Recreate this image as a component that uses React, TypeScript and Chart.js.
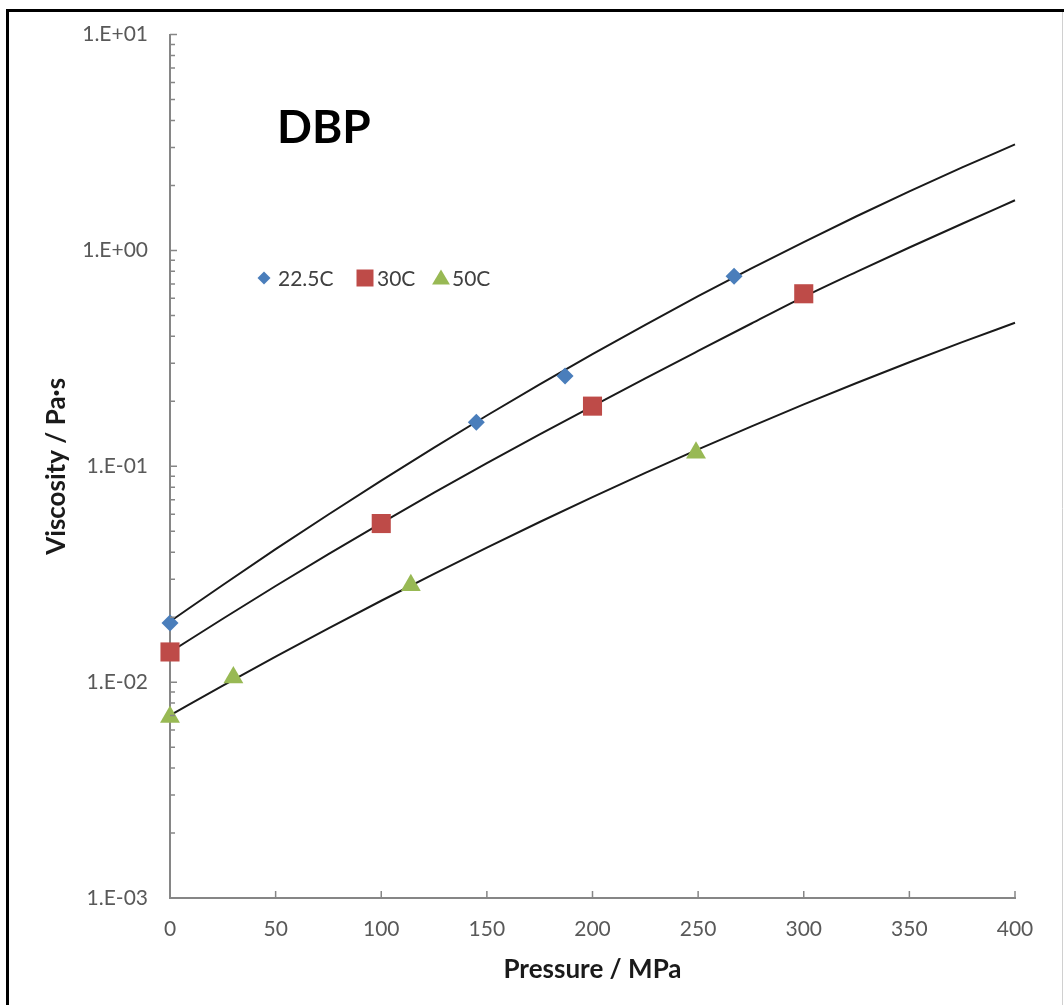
import React, { useEffect, useRef } from "react";
import { Chart, registerables } from "chart.js";

Chart.register(...registerables);

// ---- data ----
const seriesNames = ["22.5C", "30C", "50C"];
const seriesColors = ["#4A7EBB", "#BE4B48", "#98B954"];

const p225 = [0, 145, 187, 267];
const v225 = [0.0188, 0.16, 0.262, 0.76];
const p30 = [0, 100, 200, 300];
const v30 = [0.0138, 0.0543, 0.19, 0.63];
const p50 = [0, 30, 114, 249];
const v50 = [0.0069, 0.0105, 0.0281, 0.1155];

const fitPressure = [0, 25, 50, 75, 100, 125, 150, 175, 200, 225, 250, 275, 300, 325, 350, 375, 400];
const fit225 = [0.0191, 0.0282, 0.0413, 0.0598, 0.0859, 0.1221, 0.1719, 0.2397, 0.331, 0.4525, 0.6138, 0.8234, 1.094, 1.44, 1.877, 2.424, 3.099];
const fit30 = [0.01377, 0.01967, 0.02789, 0.03919, 0.0546, 0.07545, 0.1034, 0.1406, 0.1897, 0.2554, 0.3422, 0.4575, 0.6095, 0.7962, 1.032, 1.33, 1.708];
const fit50 = [0.00702, 0.00963, 0.01312, 0.01774, 0.02383, 0.03177, 0.04203, 0.05521, 0.07195, 0.09322, 0.1197, 0.1528, 0.1935, 0.2432, 0.3036, 0.376, 0.4624];

const xTickValues = [0, 50, 100, 150, 200, 250, 300, 350, 400];
const yTickValues = [0.001, 0.01, 0.1, 1, 10];
const yTickLabels = ["1.E-03", "1.E-02", "1.E-01", "1.E+00", "1.E+01"];
const yMinorMultipliers = [2, 3, 4, 5, 6, 7, 8, 9];

const chartTitle = "DBP";
const xTitle = "Pressure / MPa";
const yTitle = "Viscosity / Pa·s";

const FONT = "Lato, 'Open Sans', sans-serif";

const toXY = (xs: number[], ys: number[]) => xs.map((x, i) => ({ x, y: ys[i] }));

function drawMarker(ctx: CanvasRenderingContext2D, style: string, cx: number, cy: number, s: number) {
  ctx.beginPath();
  if (style === "rectRot") {
    ctx.moveTo(cx, cy - s);
    ctx.lineTo(cx + s, cy);
    ctx.lineTo(cx, cy + s);
    ctx.lineTo(cx - s, cy);
  } else if (style === "rect") {
    ctx.rect(cx - s, cy - s, 2 * s, 2 * s);
  } else {
    ctx.moveTo(cx, cy - s);
    ctx.lineTo(cx + s * 1.05, cy + s * 0.75);
    ctx.lineTo(cx - s * 1.05, cy + s * 0.75);
  }
  ctx.closePath();
  ctx.fill();
}

const decorPlugin = {
  id: "decor",
  afterDraw(chart: any) {
    const { ctx, chartArea: a, scales } = chart;
    const xs = scales.x;
    const ys = scales.y;
    ctx.save();

    // outer frame
    ctx.strokeStyle = "#000";
    ctx.lineWidth = 3;
    ctx.beginPath();
    ctx.moveTo(7.5, 1005);
    ctx.lineTo(7.5, 10.5);
    ctx.lineTo(1064, 10.5);
    ctx.stroke();
    ctx.strokeStyle = "#d0d0d0";
    ctx.lineWidth = 1;
    ctx.beginPath();
    ctx.moveTo(1062.5, 12);
    ctx.lineTo(1062.5, 1005);
    ctx.stroke();

    // tick marks
    ctx.strokeStyle = "#868686";
    ctx.lineWidth = 1.5;
    ctx.beginPath();
    for (let e = -3; e < 1; e++) {
      for (const m of yMinorMultipliers) {
        const py = ys.getPixelForValue(m * Math.pow(10, e));
        ctx.moveTo(a.left, py);
        ctx.lineTo(a.left + 5, py);
      }
    }
    for (const v of yTickValues) {
      const py = ys.getPixelForValue(v);
      ctx.moveTo(a.left, py);
      ctx.lineTo(a.left + 7, py);
    }
    for (const v of xTickValues) {
      const px = xs.getPixelForValue(v);
      ctx.moveTo(px, a.bottom);
      ctx.lineTo(px, a.bottom - 7);
    }
    ctx.stroke();

    // title
    ctx.fillStyle = "#000";
    ctx.font = `bold 46px ${FONT}`;
    ctx.textAlign = "left";
    ctx.textBaseline = "middle";
    ctx.fillText(chartTitle, 277, 128);

    // axis titles
    ctx.fillStyle = "#1a1a1a";
    ctx.font = `bold 26px ${FONT}`;
    ctx.textAlign = "center";
    ctx.fillText(xTitle, (a.left + a.right) / 2, 970);
    ctx.save();
    ctx.translate(57, (a.top + a.bottom) / 2);
    ctx.rotate(-Math.PI / 2);
    ctx.fillText(yTitle, 0, 0);
    ctx.restore();

    // legend
    const legendY = 278;
    const markerX = [264, 365, 441];
    const textX = [278, 377, 452];
    const styles = ["rectRot", "rect", "triangle"];
    const sizes = [6.5, 8.5, 8.5];
    ctx.font = `21px ${FONT}`;
    ctx.textAlign = "left";
    ctx.textBaseline = "middle";
    seriesNames.forEach((name, i) => {
      ctx.fillStyle = seriesColors[i];
      drawMarker(ctx, styles[i], markerX[i], legendY, sizes[i]);
      ctx.fillStyle = "#404040";
      ctx.fillText(name, textX[i], legendY + 1);
    });

    ctx.restore();
  },
};

export default function App() {
  const ref = useRef<HTMLCanvasElement | null>(null);

  useEffect(() => {
    if (!ref.current) return;
    const markerStyles = ["rectRot", "rect", "triangle"];
    const markerRadius = [8.5, 13.5, 11.5];
    const pointSets = [toXY(p225, v225), toXY(p30, v30), toXY(p50, v50)];
    const fitSets = [toXY(fitPressure, fit225), toXY(fitPressure, fit30), toXY(fitPressure, fit50)];

    const datasets: any[] = [];
    seriesNames.forEach((name, i) => {
      datasets.push({
        label: name,
        data: pointSets[i],
        showLine: false,
        clip: false,
        pointStyle: markerStyles[i],
        pointRadius: markerRadius[i],
        pointBackgroundColor: seriesColors[i],
        pointBorderColor: seriesColors[i],
        pointBorderWidth: 0,
        order: 0,
      });
    });
    seriesNames.forEach((name, i) => {
      datasets.push({
        label: name + " fit",
        data: fitSets[i],
        showLine: true,
        clip: false,
        borderColor: "#1a1a1a",
        borderWidth: 2,
        pointRadius: 0,
        cubicInterpolationMode: "monotone",
        order: 1,
      });
    });

    const chart = new Chart(ref.current, {
      type: "scatter",
      data: { datasets },
      options: {
        responsive: false,
        animation: false,
        layout: { padding: { top: 33, right: 49, left: 0, bottom: 0 } },
        plugins: { legend: { display: false }, tooltip: { enabled: false } },
        scales: {
          x: {
            type: "linear",
            min: 0,
            max: 400,
            grid: { display: false, drawTicks: false },
            border: { display: true, color: "#868686", width: 2 },
            afterBuildTicks: (s: any) => {
              s.ticks = xTickValues.map((v) => ({ value: v }));
            },
            afterFit: (s: any) => {
              s.height = 107;
            },
            ticks: {
              autoSkip: false,
              maxRotation: 0,
              padding: 19,
              color: "#595959",
              font: { family: FONT, size: 21 },
              callback: (v: any) => String(v),
            },
          },
          y: {
            type: "logarithmic",
            min: 0.001,
            max: 10,
            grid: { display: false, drawTicks: false },
            border: { display: true, color: "#868686", width: 2 },
            afterBuildTicks: (s: any) => {
              s.ticks = yTickValues.map((v) => ({ value: v }));
            },
            afterFit: (s: any) => {
              s.width = 170;
            },
            ticks: {
              autoSkip: false,
              padding: 22,
              color: "#595959",
              font: { family: FONT, size: 21 },
              callback: (v: any) => {
                const idx = yTickValues.findIndex((t) => Math.abs(Math.log10(t) - Math.log10(v)) < 1e-6);
                return idx >= 0 ? yTickLabels[idx] : "";
              },
            },
          },
        },
      },
      plugins: [decorPlugin],
    });
    return () => chart.destroy();
  }, []);

  return (
    <div style={{ position: "absolute", left: 0, top: 0, width: 1064, height: 1005, background: "#fff" }}>
      <canvas ref={ref} width={1064} height={1005} style={{ display: "block" }} />
    </div>
  );
}
